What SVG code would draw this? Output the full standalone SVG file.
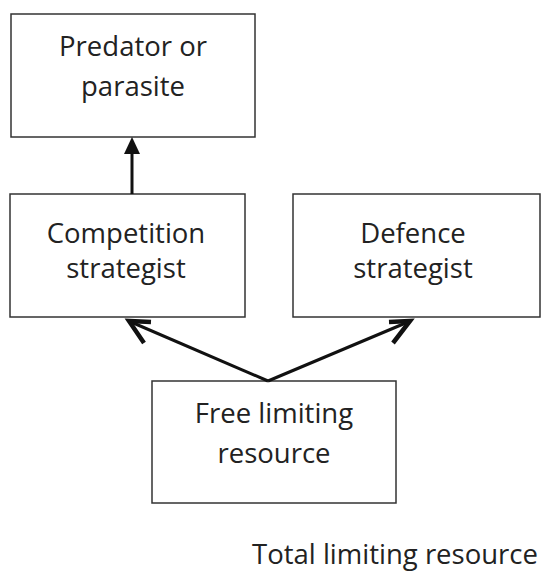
<svg xmlns="http://www.w3.org/2000/svg" width="545" height="573" viewBox="0 0 545 573">
<style>
.box{fill:#fff;stroke:#333;stroke-width:1.5}
.t{font-family:"Open Sans","Liberation Sans",sans-serif;font-size:27.5px;fill:#222;text-anchor:middle}
.c{stroke:#111;stroke-width:3;fill:none}
.bar{stroke:#111;stroke-width:4.5;fill:none}
</style>
<g id="predator">
<rect class="box" x="11" y="14" width="244" height="123"/>
<text class="t" x="133" y="56">Predator or</text>
<text class="t" x="133" y="96">parasite</text>
</g>
<g id="competition">
<rect class="box" x="10" y="194" width="235" height="123"/>
<text class="t" x="126" y="243">Competition</text>
<text class="t" x="126" y="278">strategist</text>
</g>
<g id="defence">
<rect class="box" x="293" y="194" width="247" height="123"/>
<text class="t" x="413" y="243">Defence</text>
<text class="t" x="413" y="278">strategist</text>
</g>
<g id="free">
<rect class="box" x="152" y="381" width="244" height="122"/>
<text class="t" x="274" y="423">Free limiting</text>
<text class="t" x="274" y="463">resource</text>
</g>
<g id="total">
<text class="t" x="395" y="564">Total limiting resource</text>
</g>
<g id="connectors">
<line class="c" x1="132" y1="194" x2="132" y2="150"/>
<path d="M132,137 L124,154 L140,154 Z" fill="#111"/>
<line class="c" x1="268" y1="381" x2="131" y2="322"/>
<path class="bar" d="M151,322 L129,321 L144,343"/>
<line class="c" x1="268" y1="381" x2="408" y2="322"/>
<path class="bar" d="M389,322 L410,321 L393,343"/>
</g>
</svg>
